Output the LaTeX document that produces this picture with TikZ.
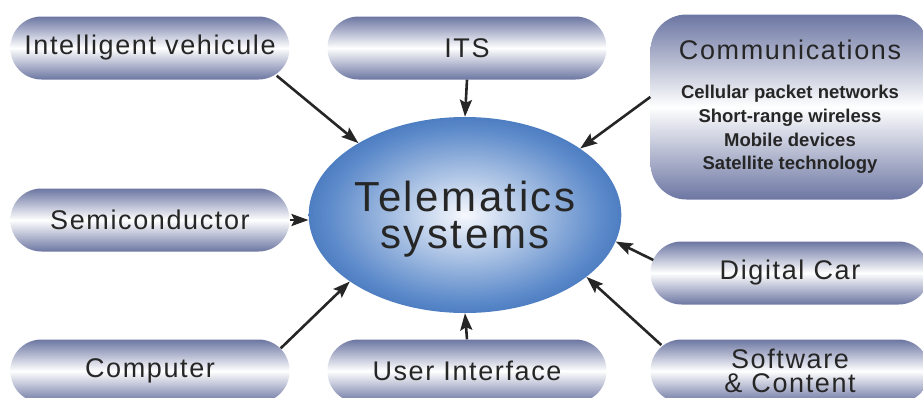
\documentclass[tikz,border=0pt]{standalone}
\usepackage{fontspec}
\setmainfont{Liberation Sans}
\newfontfamily\labelfont[LetterSpace=6]{Liberation Sans}
\usetikzlibrary{shapes.geometric,arrows.meta}

\definecolor{barblue}{RGB}{108,118,162}
\definecolor{ballblue}{RGB}{92,138,202}
\definecolor{balledge}{RGB}{78,126,194}
\definecolor{ballwhite}{RGB}{246,248,253}
\definecolor{inkgray}{RGB}{38,38,38}
\pgfdeclareradialshading{telefill}{\pgfpoint{0bp}{0bp}}{color(0bp)=(ballwhite); color(22bp)=(ballblue); color(25bp)=(balledge); color(50bp)=(balledge)}

\begin{document}
\begin{tikzpicture}[x=1pt, y=-1pt,
        bar/.style={rectangle, rounded corners=31pt, minimum width=279pt, minimum height=63pt, inner sep=0pt,
            top color=barblue, bottom color=barblue, middle color=white,
            text=inkgray, align=center, font=\labelfont\fontsize{27}{24}\selectfont},
        feed/.style={draw=inkgray, line width=2.6pt, -{Stealth[length=17pt, width=12pt, inset=3pt]}}]
        %\draw[color=lightgray] (0, 0) grid[step=50] (923, 397);
        \path[use as bounding box, clip] (0, 0) rectangle (923, 397);
        % centre
        \node[ellipse, shade, shading=telefill, minimum width=296pt, minimum height=196pt, inner sep=0pt,
            text=inkgray, align=center, text depth=0pt, font=\labelfont\fontsize{42}{37}\selectfont]
            (tele) at (465, 215) {Telematics\\systems};
        % boxes round it
        \node[bar] (iv) at (150, 48) {Intelligent vehicule};
        \node[bar] (its) at (467, 48) {ITS};
        \node[bar, rounded corners=36pt, minimum height=185pt, font=\bfseries\fontsize{18.5}{23.7}\selectfont]
            (comm) at (790, 107) {{\labelfont\mdseries\fontsize{27}{24}\selectfont Communications}\\[15pt]
            Cellular packet networks\\Short-range wireless\\Mobile devices\\Satellite technology};
        \node[bar] (semi) at (150, 220) {Semiconductor};
        \node[bar] (dc) at (790, 273) {Digital Car};
        \node[bar] (comp) at (150, 371) {Computer};
        \node[bar] (ui) at (467, 371) {User Interface};
        \node[bar] (sc) at (790, 371) {Software\\\& Content};
        % arrows
        \draw[feed] ([shift={(-13pt, 4pt)}]iv.south east) -- (tele.146);
        \draw[feed] (its.south) -- (tele.north);
        \draw[feed] ([yshift=10pt]comm.west) -- (tele.30);
        \draw[feed] (semi.east) -- (semi.east -| tele.west);
        \draw[feed] ([shift={(3pt, 13pt)}]dc.west) -- (tele.-10);
        \draw[feed] ([shift={(11pt, 26pt)}]sc.west) -- (tele.-27);
        \draw[feed] (ui.north) -- (tele.south);
        \draw[feed] ([shift={(-9pt, -9pt)}]comp.north east) -- (tele.210);
\end{tikzpicture}
\end{document}
